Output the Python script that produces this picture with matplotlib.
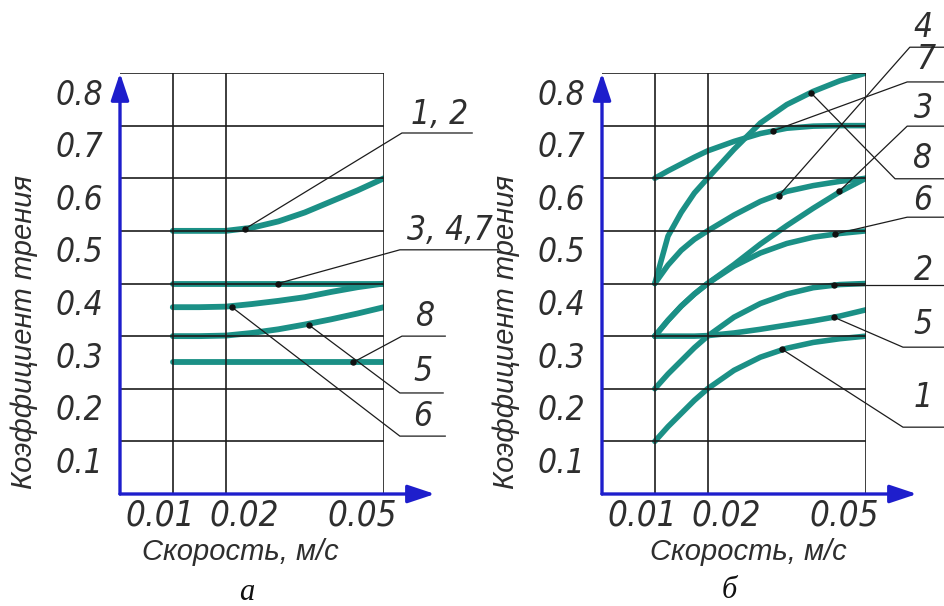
import matplotlib
matplotlib.use('Agg')
import matplotlib.pyplot as plt
from matplotlib import font_manager as fm

# ---------------- data ----------------
x_ticks = [0.01, 0.02, 0.05]
x_tick_labels = ['0.01', '0.02', '0.05']
y_ticks = [0.1, 0.2, 0.3, 0.4, 0.5, 0.6, 0.7, 0.8]
y_tick_labels = ['0.1', '0.2', '0.3', '0.4', '0.5', '0.6', '0.7', '0.8']
x_label = 'Скорость, м/с'
y_label = 'Коэффициент трения'
panel_titles = ['а', 'б']

# panel a
a_x = [0.01, 0.015, 0.02, 0.025, 0.03, 0.035, 0.04, 0.045, 0.05]
a_c12 = [0.50, 0.50, 0.50, 0.506, 0.518, 0.535, 0.556, 0.577, 0.60]
a_c347 = [0.40, 0.40, 0.40, 0.40, 0.40, 0.40, 0.40, 0.40, 0.40]
a_c6 = [0.355, 0.355, 0.356, 0.361, 0.367, 0.374, 0.384, 0.393, 0.40]
a_c5 = [0.30, 0.30, 0.301, 0.306, 0.313, 0.322, 0.332, 0.343, 0.355]
a_c8 = [0.25, 0.25, 0.25, 0.25, 0.25, 0.25, 0.25, 0.25, 0.25]

# panel б
b_x = [0.01, 0.0125, 0.015, 0.0175, 0.02, 0.025, 0.03, 0.035, 0.04, 0.045, 0.05]
b_c1 = [0.10, 0.128, 0.153, 0.178, 0.20, 0.235, 0.260, 0.277, 0.288, 0.295, 0.30]
b_c2 = [0.20, 0.228, 0.253, 0.278, 0.30, 0.336, 0.362, 0.380, 0.392, 0.398, 0.40]
b_c5 = [0.30, 0.30, 0.30, 0.30, 0.301, 0.306, 0.313, 0.321, 0.329, 0.338, 0.35]
b_c3 = [0.30, 0.330, 0.357, 0.380, 0.40, 0.436, 0.475, 0.510, 0.543, 0.574, 0.60]
b_c6 = [0.30, 0.330, 0.357, 0.380, 0.40, 0.433, 0.458, 0.476, 0.488, 0.495, 0.50]
b_c4 = [0.40, 0.435, 0.463, 0.484, 0.50, 0.530, 0.556, 0.575, 0.586, 0.594, 0.60]
b_c8 = [0.40, 0.490, 0.535, 0.572, 0.60, 0.655, 0.705, 0.740, 0.765, 0.785, 0.80]
b_c7 = [0.60, 0.614, 0.627, 0.640, 0.652, 0.670, 0.685, 0.695, 0.699, 0.70, 0.70]

a_series = [a_c12, a_c347, a_c6, a_c5, a_c8]
b_series = [b_c1, b_c2, b_c5, b_c3, b_c6, b_c4, b_c8, b_c7]

# callouts: label, point on curve (x, y)
a_call_labels = ['1, 2', '3, 4,7', '8', '5', '6']
a_call_points = [(0.0237, 0.504), (0.0299, 0.40), (0.0441, 0.25), (0.0358, 0.321), (0.0212, 0.355)]
b_call_labels = ['4', '7', '3', '8', '6', '2', '5', '1']
b_call_points = [(0.0335, 0.567), (0.0324, 0.690), (0.0449, 0.575), (0.0396, 0.762),
                 (0.0441, 0.494), (0.0439, 0.397), (0.0439, 0.336), (0.0341, 0.275)]

# ---------------- layout / style ----------------
a_knees = [(0.0534, 0.686), (0.0530, 0.464), (0.0534, 0.300), (0.0530, 0.192), (0.0530, 0.110)]
a_ends = [0.0667, 0.0716, 0.0616, 0.0612, 0.0616]
a_texts = [(0.0606, 0.722), (0.0625, 0.500), (0.0578, 0.338), (0.0574, 0.232), (0.0574, 0.148)]
b_knees = [(0.0583, 0.849), (0.0578, 0.783), (0.0578, 0.699), (0.0555, 0.599),
           (0.0578, 0.526), None, (0.0570, 0.279), (0.0570, 0.127)]
b_ends = [0.0650] * 8
b_texts = [(0.0608, 0.886), (0.0613, 0.826), (0.0608, 0.733), (0.0608, 0.638),
           (0.0608, 0.557), (0.0608, 0.424), (0.0608, 0.323), (0.0608, 0.184)]


def find_condensed():
    best, best_score = None, -1
    for f in fm.fontManager.ttflist:
        n = f.name.lower()
        if 'mono' in n or 'cjk' in n or 'serif' in n:
            continue
        st = f.stretch
        cond = ('narrow' in n) or ('condensed' in n) or \
            (isinstance(st, str) and 'condensed' in st) or \
            (isinstance(st, (int, float)) and st < 500)
        if not cond:
            continue
        w = f.weight
        wnum = w if isinstance(w, (int, float)) else {'normal': 400, 'regular': 400,
                                                       'light': 300, 'book': 400}.get(str(w), 700)
        score = (4 if f.style in ('italic', 'oblique') else 0) + (2 if 300 <= wnum <= 400 else 0)
        if score > best_score:
            best, best_score = f, score
    return best


cf = find_condensed()
if cf is not None:
    def digit_font(size):
        return fm.FontProperties(fname=cf.fname, size=size)
    DSIZE_Y, DSIZE_X, DSIZE_C = 24, 25, 24
else:
    def digit_font(size):
        return fm.FontProperties(family=['Liberation Sans', 'DejaVu Sans'],
                                 style='italic', size=size)
    DSIZE_Y, DSIZE_X, DSIZE_C = 21, 21, 21

SANS = ['Liberation Sans', 'DejaVu Sans']
SERIF = ['Liberation Serif', 'DejaVu Serif']
TXT = '#2e2e2e'
TEAL = '#1b9086'
BLUE = '#1e1ecc'
GRID = '#1c1c1c'

W, H = 944, 606
fig = plt.figure(figsize=(W / 100, H / 100), dpi=100)
fig.patch.set_facecolor('white')

ax_w, ax_h = 264, 421
bottom_px = 494
lefts = [120, 602]
xshift = [-0.0023, 0.0036, -0.0042]


def setup(ax, xlabel_frac):
    ax.set_xlim(0, 0.05)
    ax.set_ylim(0, 0.8)
    for s in ax.spines.values():
        s.set_visible(False)
    ax.set_xticks(x_ticks)
    ax.set_yticks(y_ticks)
    ax.set_xticklabels([])
    ax.set_yticklabels([])
    ax.tick_params(length=0)
    ax.set_axisbelow(False)
    ax.grid(True, color=GRID, lw=1.2)
    ax.set_facecolor('none')
    for tip in [(0, 1.0), (1.193, 0)]:
        ax.annotate('', xy=tip, xytext=(0, 0), xycoords='axes fraction',
                    arrowprops=dict(arrowstyle='-|>,head_length=0.75,head_width=0.25',
                                    color=BLUE, lw=2.4, mutation_scale=22,
                                    shrinkA=0, shrinkB=0),
                    annotation_clip=False, zorder=6)
    ytr = ax.get_yaxis_transform()
    for v, t in zip(y_ticks, y_tick_labels):
        ax.text(-0.155, v - 0.042, t, transform=ytr, ha='center', va='center',
                fontproperties=digit_font(DSIZE_Y), color=TXT)
    xtr = ax.get_xaxis_transform()
    for v, t, sh in zip(x_ticks, x_tick_labels, xshift):
        ax.text(v + sh, -0.052, t, transform=xtr, ha='center', va='center',
                fontproperties=digit_font(DSIZE_X), color=TXT)
    ax.text(xlabel_frac, -0.138, x_label, transform=ax.transAxes, ha='center',
            va='center', family=SANS, style='italic', fontsize=21, color=TXT)
    ax.text(-0.362, 0.385, y_label, transform=ax.transAxes, ha='center',
            va='center', rotation=90, family=SANS, style='italic', fontsize=21,
            color=TXT)


def callouts(ax, labels, points, knees, ends, texts):
    for lab, p, k, e, t in zip(labels, points, knees, ends, texts):
        if k is None:
            ax.plot([p[0], e], [p[1], p[1]], color=GRID, lw=0.9, clip_on=False, zorder=4)
        else:
            ax.plot([p[0], k[0], e], [p[1], k[1], k[1]], color=GRID, lw=0.9,
                    clip_on=False, zorder=4)
        ax.plot([p[0]], [p[1]], 'o', color='#111111', ms=3.6, zorder=7, clip_on=False)
        ax.text(t[0], t[1], lab, ha='center', va='center',
                fontproperties=digit_font(DSIZE_C), color=TXT, clip_on=False)


axs = []
for lp in lefts:
    axs.append(fig.add_axes([lp / W, (H - bottom_px) / H, ax_w / W, ax_h / H]))

ax_a, ax_b = axs
setup(ax_a, 0.455)
setup(ax_b, 0.553)

for ys in a_series:
    ax_a.plot(a_x, ys, color=TEAL, lw=4.2, solid_capstyle='round', zorder=2)
for ys in b_series:
    ax_b.plot(b_x, ys, color=TEAL, lw=4.0, solid_capstyle='round', zorder=2)

callouts(ax_a, a_call_labels, a_call_points, a_knees, a_ends, a_texts)
callouts(ax_b, b_call_labels, b_call_points, b_knees, b_ends, b_texts)

fig.text(247 / W, 1 - 592 / H, panel_titles[0], ha='center', va='center',
         family=SERIF, style='italic', fontsize=22, color='#111111')
fig.text(729 / W, 1 - 590 / H, panel_titles[1], ha='center', va='center',
         family=SERIF, style='italic', fontsize=22, color='#111111')

fig.savefig('out.png', dpi=100, facecolor='white')
